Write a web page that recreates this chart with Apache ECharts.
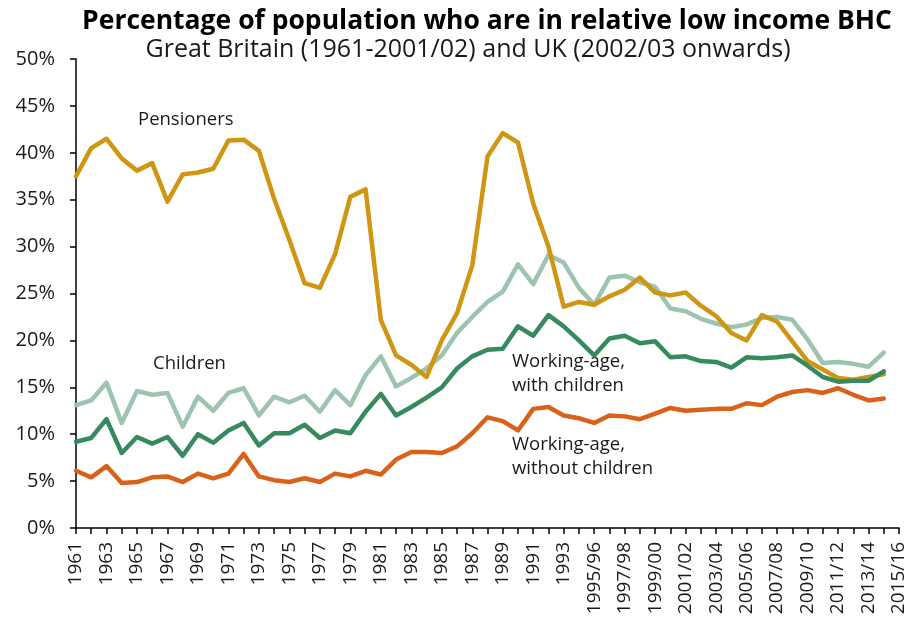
<!DOCTYPE html>
<html>
<head>
<meta charset="utf-8">
<title>Relative low income BHC</title>
<script src="https://cdn.jsdelivr.net/npm/echarts@6/dist/echarts.min.js"></script>
<style>
  html, body { margin: 0; padding: 0; background: #fff; }
  #chart { width: 909px; height: 624px; }
</style>
</head>
<body>
<div id="chart"></div>
<script>
// years: 1961-1993 calendar, then financial years
var years = [];
for (var y = 1961; y <= 1993; y++) years.push(String(y));
var finYears = ['1994/95','1995/96','1996/97','1997/98','1998/99','1999/00','2000/01','2001/02',
  '2002/03','2003/04','2004/05','2005/06','2006/07','2007/08','2008/09','2009/10',
  '2010/11','2011/12','2012/13','2013/14','2014/15','2015/16'];
var categories = years.concat(finYears);

var yTicks = [0, 5, 10, 15, 20, 25, 30, 35, 40, 45, 50];

var pensioners = [37.5, 40.5, 41.5, 39.4, 38.1, 38.9, 34.8, 37.7, 37.9, 38.3,
  41.3, 41.4, 40.2, 35.1, 30.7, 26.1, 25.6, 29.2, 35.3, 36.1,
  22.2, 18.4, 17.4, 16.1, 20.0, 22.9, 28.0, 39.6, 42.1, 41.1,
  34.6, 30.0, 23.6, 24.1, 23.8, 24.7, 25.4, 26.7, 25.1, 24.8,
  25.1, 23.7, 22.6, 20.8, 20.0, 22.7, 22.0, 19.9, 17.8, 16.9,
  16.0, 15.8, 16.1, 16.4];

var children = [13.1, 13.6, 15.5, 11.2, 14.6, 14.2, 14.4, 10.8, 14.0, 12.5,
  14.4, 14.9, 12.0, 14.0, 13.4, 14.1, 12.4, 14.7, 13.1, 16.3,
  18.3, 15.1, 16.0, 17.0, 18.4, 20.8, 22.5, 24.1, 25.2, 28.1,
  26.0, 29.1, 28.3, 25.6, 23.8, 26.7, 26.9, 26.2, 25.7, 23.4,
  23.1, 22.3, 21.8, 21.4, 21.7, 22.4, 22.5, 22.2, 20.1, 17.6,
  17.7, 17.5, 17.2, 18.7];

var waWithChildren = [9.2, 9.6, 11.6, 8.0, 9.7, 9.0, 9.7, 7.7, 10.0, 9.1,
  10.4, 11.2, 8.8, 10.1, 10.1, 11.0, 9.6, 10.4, 10.1, 12.4,
  14.3, 12.0, 12.9, 13.9, 15.0, 17.0, 18.3, 19.0, 19.1, 21.5,
  20.5, 22.7, 21.5, 20.0, 18.4, 20.2, 20.5, 19.7, 19.9, 18.2,
  18.3, 17.8, 17.7, 17.1, 18.2, 18.1, 18.2, 18.4, 17.3, 16.1,
  15.6, 15.7, 15.7, 16.7];

var waWithoutChildren = [6.1, 5.4, 6.6, 4.8, 4.9, 5.4, 5.5, 4.9, 5.8, 5.3,
  5.8, 7.9, 5.5, 5.1, 4.9, 5.3, 4.9, 5.8, 5.5, 6.1,
  5.7, 7.3, 8.1, 8.1, 8.0, 8.7, 10.1, 11.8, 11.4, 10.4,
  12.7, 12.9, 12.0, 11.7, 11.2, 12.0, 11.9, 11.6, 12.2, 12.8,
  12.5, 12.6, 12.7, 12.7, 13.3, 13.1, 14.0, 14.5, 14.7, 14.4,
  14.9, 14.2, 13.6, 13.8];

var FONT = '"Open Sans", "Noto Sans", sans-serif';
var TEXT = '#1a1a1a';

var chart = echarts.init(document.getElementById('chart'));

function lineSeries(name, data, color) {
  return {
    name: name,
    type: 'line',
    data: data,
    symbol: 'none',
    smooth: false,
    lineStyle: { color: color, width: 4.5, join: 'round', cap: 'round' },
    itemStyle: { color: color },
    animation: false
  };
}

chart.setOption({
  animation: false,
  textStyle: { fontFamily: FONT },
  title: [{
    text: 'Percentage of population who are in relative low income BHC',
    left: 482, top: 3, textAlign: 'center',
    textStyle: { fontFamily: FONT, fontSize: 26.5, fontWeight: 'bold', color: '#000' }
  }, {
    text: 'Great Britain (1961-2001/02) and UK (2002/03 onwards)',
    left: 463, top: 32, textAlign: 'center',
    textStyle: { fontFamily: FONT, fontSize: 25, fontWeight: 'normal', color: TEXT }
  }],
  grid: { left: 76, right: 10, top: 59, bottom: 96, containLabel: false },
  xAxis: {
    type: 'category',
    data: categories,
    boundaryGap: false,
    axisLine: { lineStyle: { color: '#000', width: 1.5 } },
    axisTick: { interval: 0, length: 6, lineStyle: { color: '#000', width: 1.5 } },
    axisLabel: {
      interval: 1, rotate: 90, margin: 14,
      fontSize: 19, color: TEXT, fontFamily: FONT
    },
    splitLine: { show: false }
  },
  yAxis: {
    type: 'value',
    min: yTicks[0], max: yTicks[yTicks.length - 1], interval: 5,
    axisLine: { show: true, lineStyle: { color: '#000', width: 1.5 } },
    axisTick: { show: true, length: 6, lineStyle: { color: '#000', width: 1.5 } },
    axisLabel: { formatter: '{value}%', margin: 21, fontSize: 20, color: TEXT, fontFamily: FONT },
    splitLine: { show: false }
  },
  series: [
    lineSeries('Children', children, '#9dc4ae'),
    lineSeries('Pensioners', pensioners, '#cf9614'),
    lineSeries('Working-age, with children', waWithChildren, '#368a5e'),
    lineSeries('Working-age, without children', waWithoutChildren, '#d9611a')
  ],
  graphic: [
    { type: 'text', left: 138, top: 110, style: { text: 'Pensioners', font: '18.5px ' + FONT, fill: TEXT } },
    { type: 'text', left: 153, top: 354, style: { text: 'Children', font: '18.5px ' + FONT, fill: TEXT } },
    { type: 'text', left: 512, top: 350, style: { text: 'Working-age,\nwith children', font: '18.5px ' + FONT, fill: TEXT, lineHeight: 24 } },
    { type: 'text', left: 512, top: 433, style: { text: 'Working-age,\nwithout children', font: '18.5px ' + FONT, fill: TEXT, lineHeight: 24 } }
  ]
});
</script>
</body>
</html>
